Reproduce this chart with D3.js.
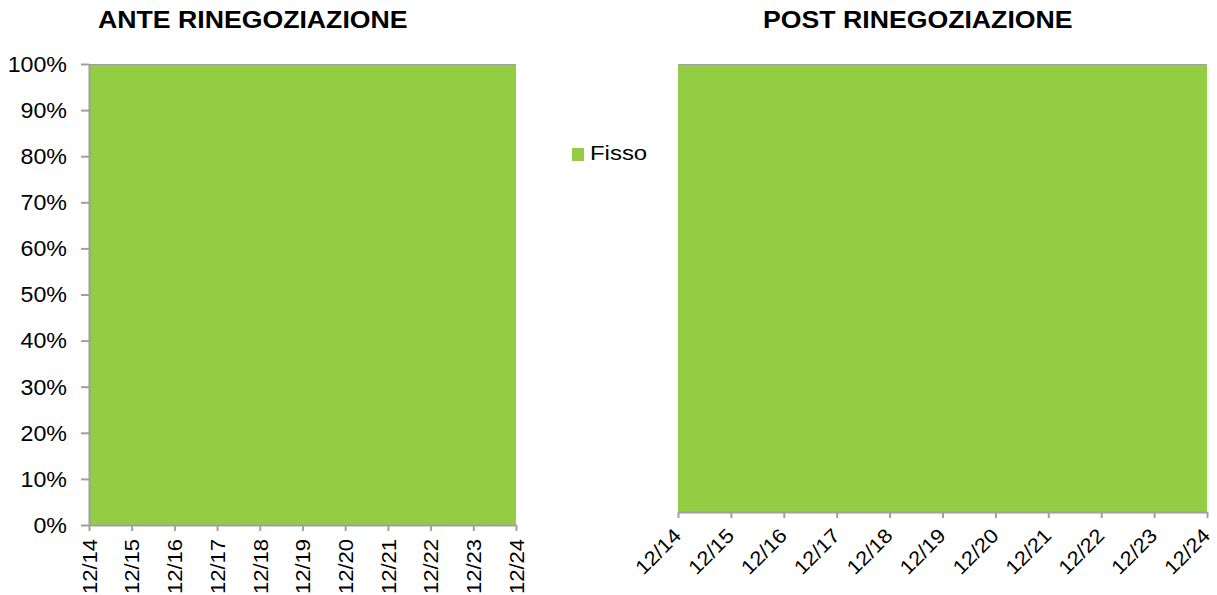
<!DOCTYPE html>
<html><head><meta charset="utf-8">
<script src="https://cdn.jsdelivr.net/npm/d3@7"></script>
<style>
body{margin:0;background:#fff;}
text{font-family:Arial,"Liberation Sans",sans-serif;fill:#000;}
</style></head>
<body>
<svg id="c" width="1217" height="595"></svg>
<script>
const categories = ["12/14","12/15","12/16","12/17","12/18","12/19","12/20","12/21","12/22","12/23","12/24"];
const anteFisso = [1,1,1,1,1,1,1,1,1,1,1];
const postFisso = [1,1,1,1,1,1,1,1,1,1,1];
const yTicks = [0,0.1,0.2,0.3,0.4,0.5,0.6,0.7,0.8,0.9,1.0];
const titles = ["ANTE RINEGOZIAZIONE","POST RINEGOZIAZIONE"];
const seriesName = "Fisso";

const GREEN = "#92cd43", AXIS = "#a0a0a0";
const svg = d3.select("#c");

function panel(values, cfg){
  const x = d3.scalePoint().domain(categories).range([cfg.x0, cfg.x1]);
  const y = d3.scaleLinear().domain([0,1]).range([cfg.y0, cfg.y1]);
  const g = svg.append("g");
  const area = d3.area().x((d,i)=>x(categories[i])).y0(y(0)).y1(d=>y(d));
  g.append("path").datum(values).attr("d", area).attr("fill", GREEN);
  g.append("line").attr("x1",cfg.x0).attr("x2",cfg.x1).attr("y1",y(1)+0.5).attr("y2",y(1)+0.5).attr("stroke",AXIS).attr("stroke-width",1);
  const xa = g.append("g").attr("transform",`translate(0,${cfg.y0})`)
    .call(d3.axisBottom(x).tickSize(6).tickSizeOuter(0));
  xa.select(".domain").attr("stroke",AXIS).attr("stroke-width",2);
  xa.selectAll(".tick line").attr("stroke",AXIS).attr("stroke-width",2);
  xa.selectAll(".tick text").remove();
  xa.selectAll(".tick").append("text")
    .attr("transform", cfg.rot === -90 ? "translate(0,14) rotate(-90) scale(1.1,1)" : "translate(-6,15) rotate(-45) scale(1.1,1)")
    .attr("text-anchor","end")
    .attr("dy", cfg.rot === -90 ? "0.36em" : "0.7em")
    .style("font-size","20px")
    .text(d=>d);
  if (cfg.yAxis){
    const ya = g.append("g").attr("transform",`translate(${cfg.x0},0)`)
      .call(d3.axisLeft(y).tickValues(yTicks).tickFormat(d3.format(".0%")).tickSize(8).tickSizeOuter(0));
    ya.select(".domain").attr("stroke",AXIS).attr("stroke-width",2);
    ya.selectAll(".tick line").attr("stroke",AXIS).attr("stroke-width",2);
    ya.selectAll(".tick text").attr("x",0).attr("dy","0.34em")
      .attr("transform","translate(-22,0) scale(1.08,1)")
      .style("font-size","21.5px").attr("fill","#000");
  }
  g.append("text").attr("transform",`translate(${cfg.tx},28) scale(1.16,1)`).attr("text-anchor","start")
    .style("font-size","23px").style("font-weight","bold").text(cfg.title);
}

panel(anteFisso, {x0:89, x1:516, y0:525, y1:64, rot:-90, yAxis:true, title:titles[0], tx:98});
panel(postFisso, {x0:678, x1:1207, y0:512, y1:64, rot:-45, yAxis:false, title:titles[1], tx:763});

const lg = svg.append("g").attr("transform","translate(572,148)");
lg.append("rect").attr("width",12).attr("height",13).attr("fill",GREEN);
lg.append("text").attr("transform","translate(18,12) scale(1.14,1)").style("font-size","21px").text(seriesName);
</script>
</body></html>
